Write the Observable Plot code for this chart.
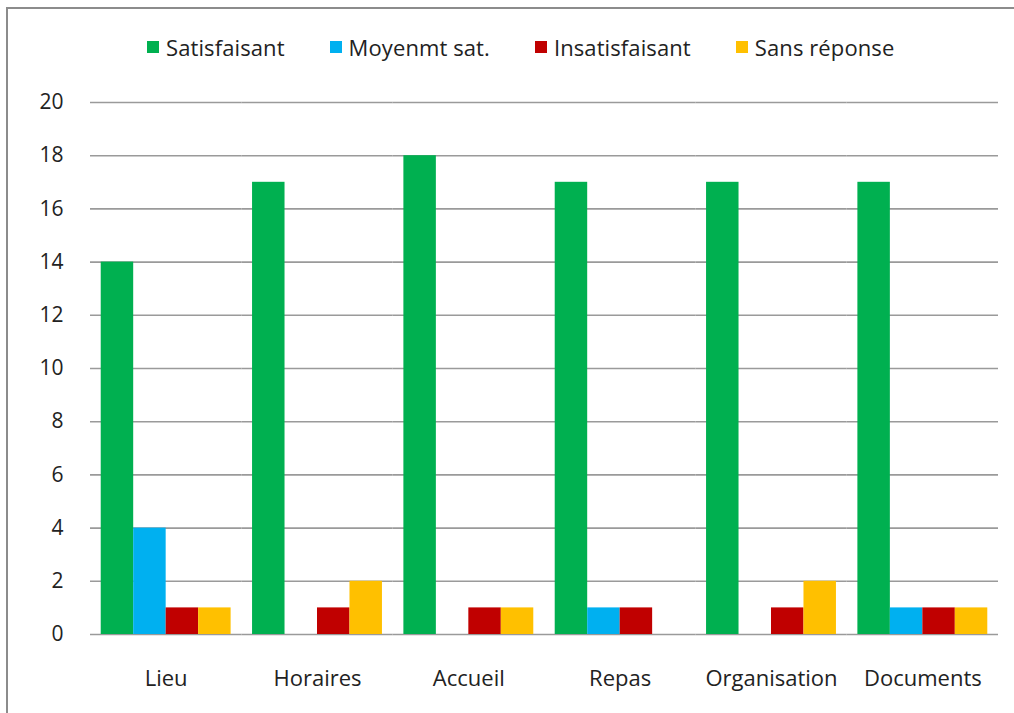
<!DOCTYPE html>
<html>
<head>
<meta charset="utf-8">
<script src="https://cdn.jsdelivr.net/npm/d3@7"></script>
<script src="https://cdn.jsdelivr.net/npm/@observablehq/plot@0.6"></script>
<style>
  html, body { margin: 0; padding: 0; background: #fff; }
  #wrap { position: relative; width: 1014px; height: 713px; overflow: hidden; font-family: "Open Sans", sans-serif; color: #222; }
  #frame { position: absolute; left: 6px; top: 7px; width: 1010px; height: 710px; border-top: 2px solid #8c8c8c; border-left: 2px solid #8c8c8c; pointer-events: none; }
  #legend { position: absolute; left: 147px; top: 32px; display: flex; align-items: center; font-size: 22px; letter-spacing: 0.1px; }
  .item { display: flex; align-items: center; margin-right: 45px; }
  .sw { width: 12px; height: 12px; margin-right: 7px; }
  #chart { position: absolute; left: 0; top: 80px; }
</style>
</head>
<body>
<div id="wrap">
  <div id="legend"></div>
  <div id="chart"></div>
  <div id="frame"></div>
</div>
<script>
const categories = ["Lieu", "Horaires", "Accueil", "Repas", "Organisation", "Documents"];
const series = ["Satisfaisant", "Moyenmt sat.", "Insatisfaisant", "Sans réponse"];
const satisfaisant = [14, 17, 18, 17, 17, 17];
const moyenmtSat = [4, 0, 0, 1, 0, 1];
const insatisfaisant = [1, 1, 1, 1, 1, 1];
const sansReponse = [1, 2, 1, 0, 2, 1];
const colors = ["#00B050", "#00B0F0", "#C00000", "#FFC000"];
const yTicks = [0, 2, 4, 6, 8, 10, 12, 14, 16, 18, 20];

const seriesValues = [satisfaisant, moyenmtSat, insatisfaisant, sansReponse];
const data = categories.flatMap((c, i) =>
  series.map((s, j) => ({ category: c, series: s, value: seriesValues[j][i] }))
);

// legend
const legend = document.getElementById("legend");
series.forEach((s, j) => {
  const it = document.createElement("div");
  it.className = "item";
  const sw = document.createElement("span");
  sw.className = "sw";
  sw.style.background = colors[j];
  const t = document.createElement("span");
  t.textContent = s;
  it.appendChild(sw);
  it.appendChild(t);
  legend.appendChild(it);
});

const chart = Plot.plot({
  width: 1014,
  height: 633,
  marginLeft: 90,
  marginRight: 16,
  marginTop: 22,
  marginBottom: 79,
  style: { fontFamily: "Open Sans, sans-serif", fontSize: "21px", color: "#222", background: "transparent" },
  fx: { domain: categories, padding: 0, round: false, label: null },
  x: { domain: series, axis: null, paddingInner: 0, paddingOuter: 0.33, round: false },
  y: { domain: [0, 20], label: null },
  color: { domain: series, range: colors },
  marks: [
    Plot.gridY(yTicks, { stroke: "#9a9a9a", strokeOpacity: 1, strokeWidth: 1.6 }),
    Plot.barY(data, { fx: "category", x: "series", y: "value", fill: "series" }),
    Plot.axisY(yTicks, { tickSize: 0, tickPadding: 27, label: null, fontSize: 21 }),
    Plot.axisFx({ anchor: "bottom", tickSize: 0, tickPadding: 36, label: null, fontSize: 22 })
  ]
});
document.getElementById("chart").appendChild(chart);
</script>
</body>
</html>
